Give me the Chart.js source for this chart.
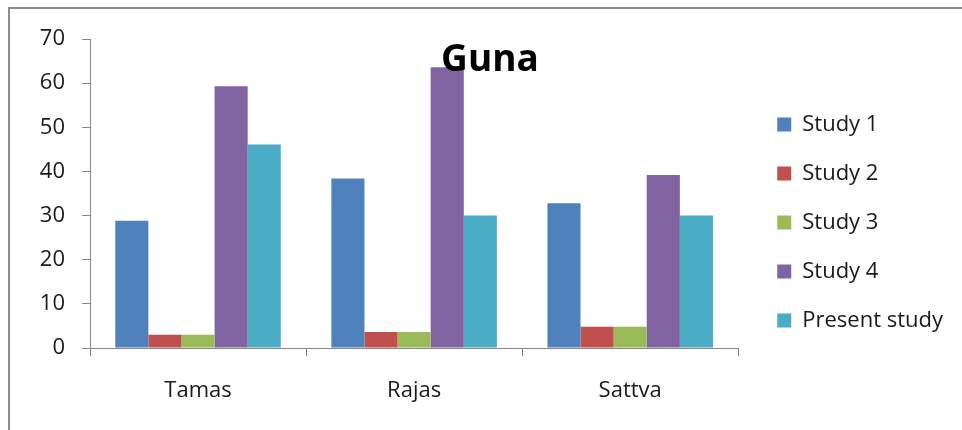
<!DOCTYPE html>
<html>
<head>
<meta charset="utf-8">
<script src="https://cdn.jsdelivr.net/npm/chart.js@4/dist/chart.umd.min.js"></script>
<style>
  html, body { margin: 0; padding: 0; background: #ffffff; }
  #wrap { position: relative; width: 962px; height: 430px; overflow: hidden; }
  #frame {
    position: absolute; left: 8px; top: 7px; right: -10px; bottom: -10px;
    border-left: 2px solid #8c8c8c; border-top: 2px solid #8c8c8c;
  }
  canvas { position: absolute; left: 0; top: 0; }
</style>
</head>
<body>
<div id="wrap">
  <div id="frame"></div>
  <canvas id="chart" width="962" height="430"></canvas>
</div>
<script>
// Guna scores per study
const categories = ['Tamas', 'Rajas', 'Sattva'];
const study1 = [28.8, 38.4, 32.8];
const study2 = [3, 3.6, 4.8];
const study3 = [3, 3.6, 4.8];
const study4 = [59.3, 63.6, 39.2];
const presentStudy = [46.1, 30, 30];
const seriesNames = ['Study 1', 'Study 2', 'Study 3', 'Study 4', 'Present study'];
const yTicks = [0, 10, 20, 30, 40, 50, 60, 70];
const chartTitle = 'Guna';

const colors = ['#4F81BD', '#C0504D', '#9BBB59', '#8064A2', '#4BACC6'];
const axisGrey = '#868686';
const FONT = "'Open Sans', sans-serif";

// Title sits over the plot, drawn after the bars
const titleOverlay = {
  id: 'titleOverlay',
  afterDatasetsDraw(chart) {
    const ctx = chart.ctx;
    ctx.save();
    ctx.font = "bold 37px " + FONT;
    ctx.fillStyle = '#000000';
    ctx.textAlign = 'center';
    ctx.textBaseline = 'alphabetic';
    ctx.fillText(chartTitle, 490, 71);
    ctx.restore();
  }
};

const values = [study1, study2, study3, study4, presentStudy];

new Chart(document.getElementById('chart'), {
  type: 'bar',
  data: {
    labels: categories,
    datasets: values.map((v, i) => ({
      label: seriesNames[i],
      data: v,
      backgroundColor: colors[i],
      borderWidth: 0,
      categoryPercentage: 0.766,
      barPercentage: 1.0
    }))
  },
  options: {
    responsive: false,
    animation: false,
    layout: { padding: { left: 0, right: 9, top: 39, bottom: 24 } },
    scales: {
      x: {
        grid: { display: true, drawOnChartArea: false, tickLength: 8, color: axisGrey, offset: true },
        border: { display: true, color: axisGrey, width: 1 },
        ticks: { color: '#1a1a1a', font: { family: FONT, size: 22 }, padding: 22, maxRotation: 0 },
        afterFit(scale) { scale.height = 58; }
      },
      y: {
        min: 0, max: 70,
        afterBuildTicks(scale) { scale.ticks = yTicks.map(v => ({ value: v })); },
        grid: { display: true, drawOnChartArea: false, tickLength: 8, color: axisGrey },
        border: { display: true, color: axisGrey, width: 1 },
        ticks: { color: '#1a1a1a', font: { family: FONT, size: 22 }, padding: 17 },
        afterFit(scale) { scale.width = 90; }
      },
      // hidden spacer between the plot and the legend
      gap: {
        type: 'linear', position: 'right', display: false,
        afterFit(scale) { scale.width = 12; }
      }
    },
    plugins: {
      title: { display: false },
      tooltip: { enabled: false },
      legend: {
        position: 'right',
        align: 'center',
        labels: {
          boxWidth: 14, boxHeight: 14, padding: 27,
          color: '#1a1a1a',
          font: { family: FONT, size: 22 }
        }
      }
    }
  },
  plugins: [titleOverlay]
});
</script>
</body>
</html>
